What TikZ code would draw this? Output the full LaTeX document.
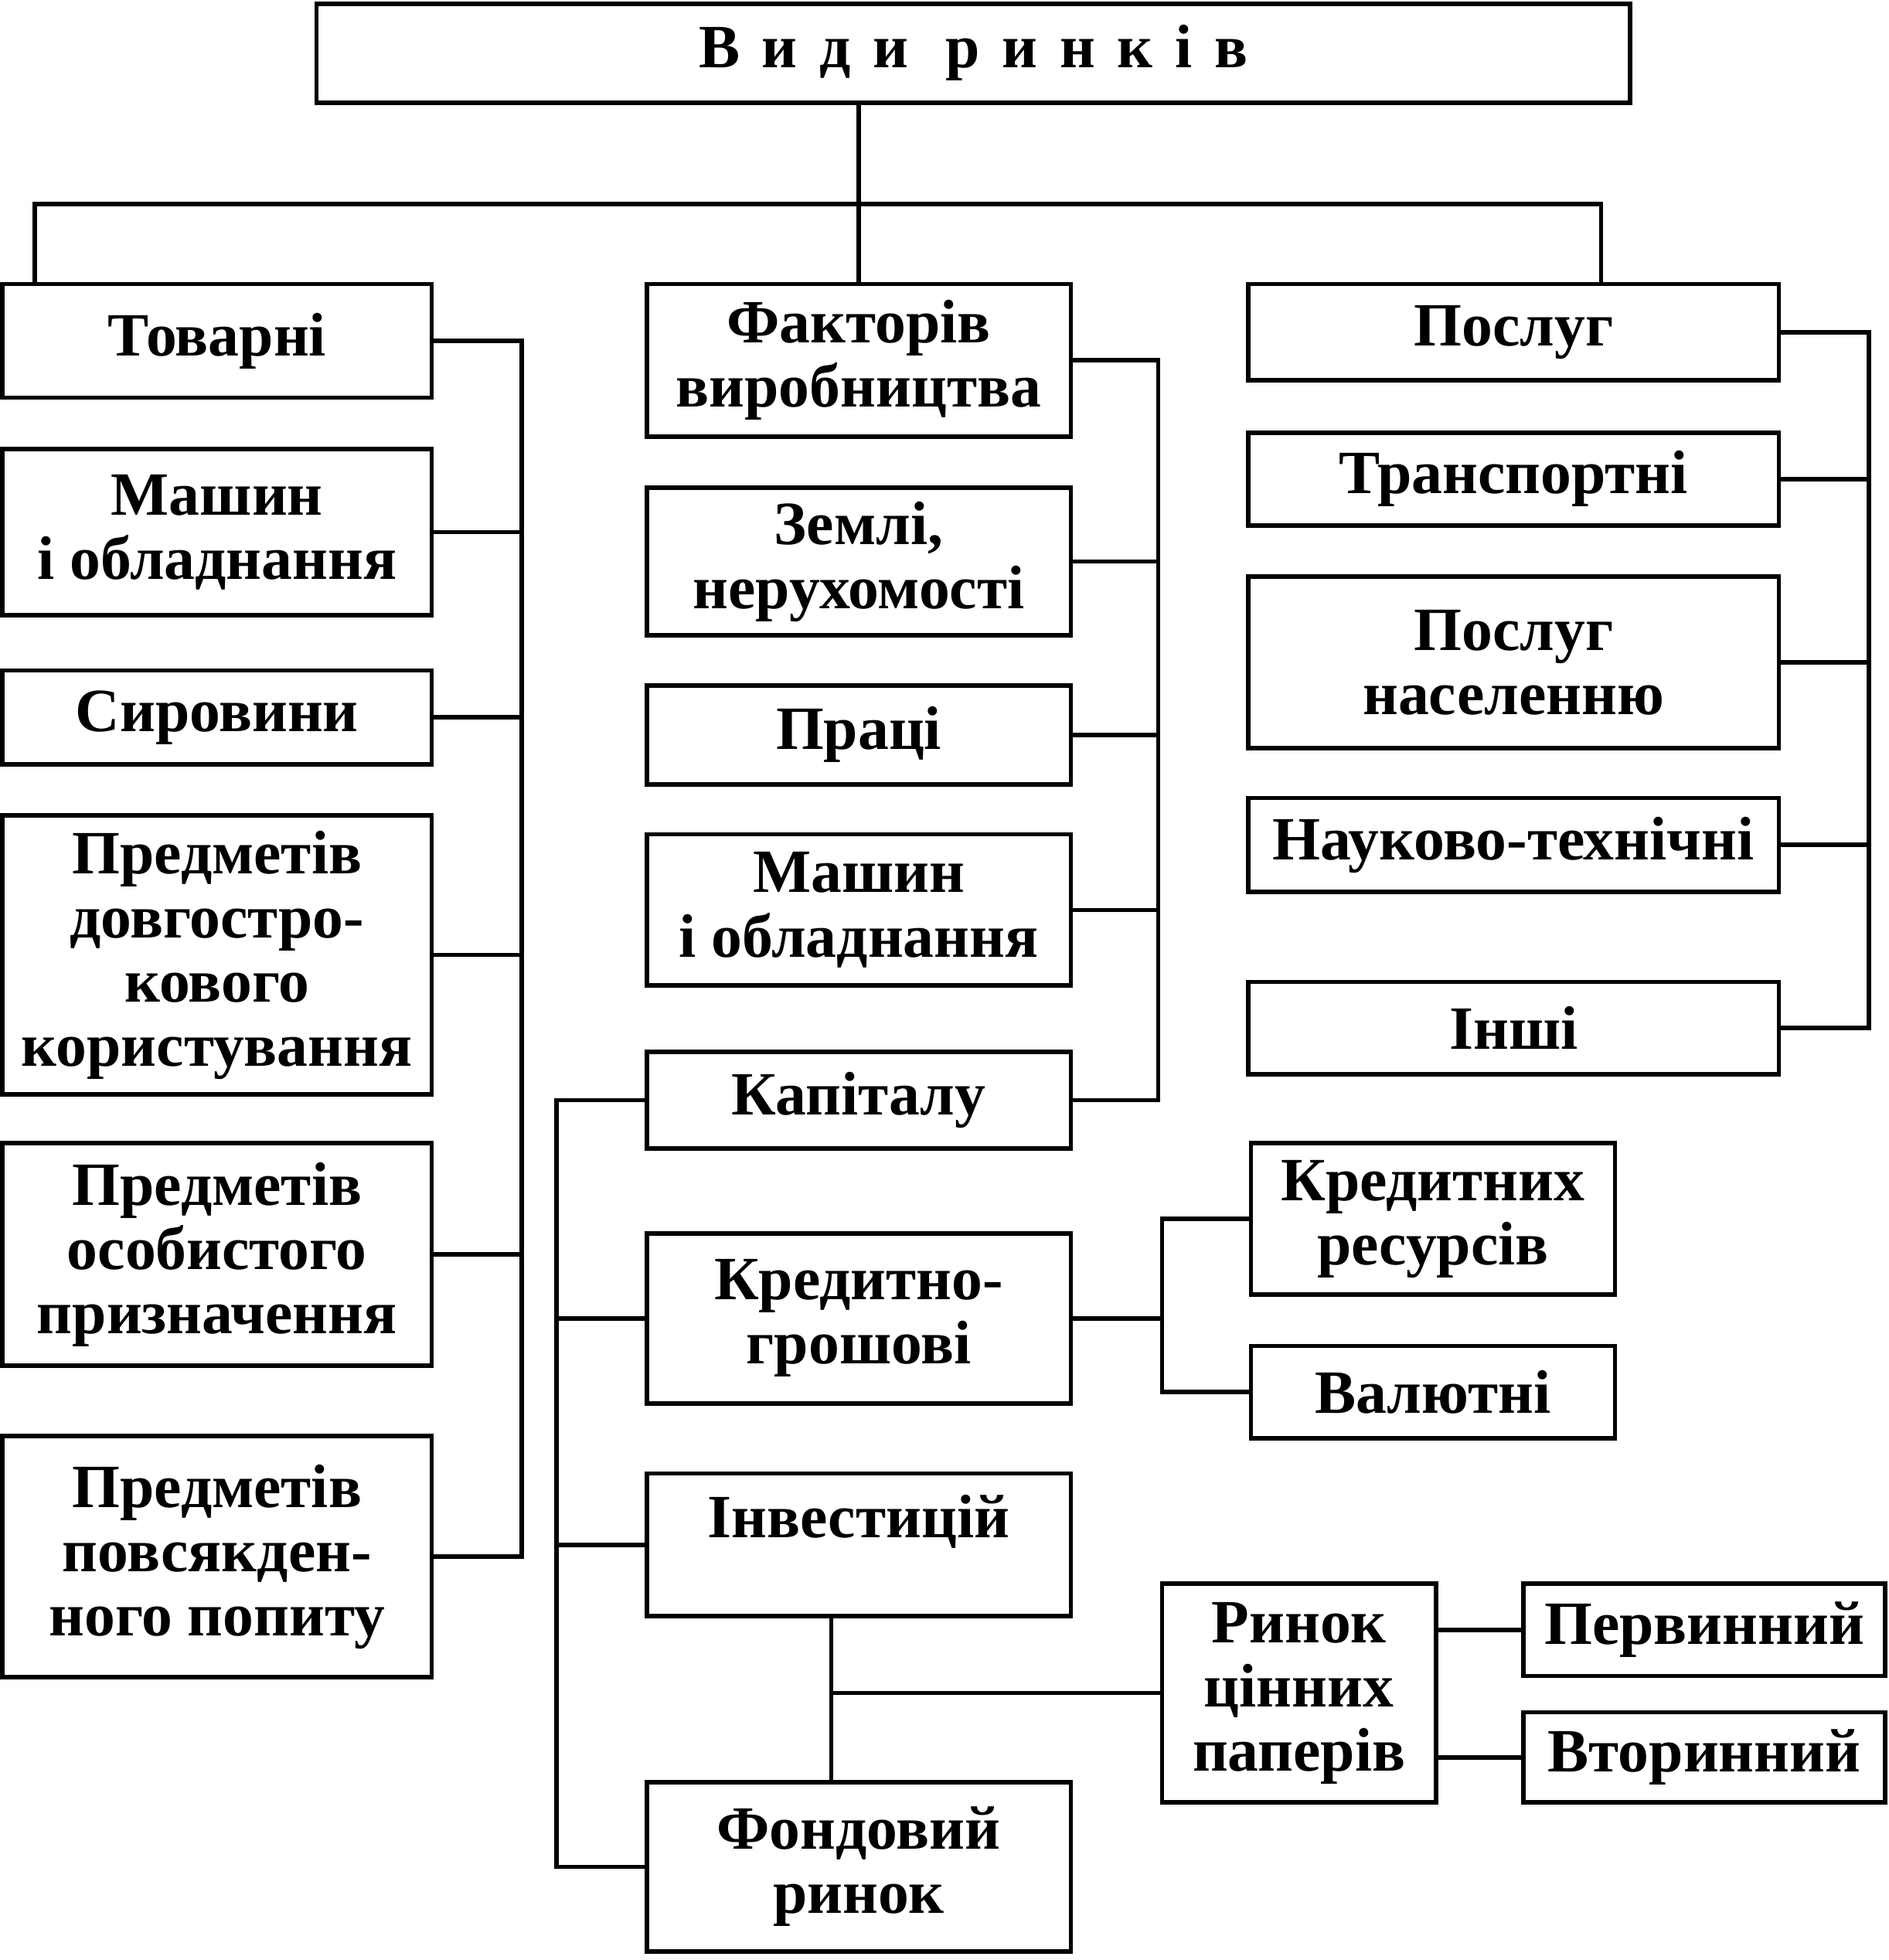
\documentclass[tikz,border=0pt]{standalone}
\usepackage{fontspec}
\setmainfont{Liberation Serif}
\tikzset{
     box/.style={draw, line width=1pt, align=center, inner sep=0pt, outer sep=0pt,
       font=\bfseries\fontsize{14}{14.6}\selectfont},
     link/.style={line width=1pt}
     }
\usetikzlibrary{positioning,calc}

\begin{document}
\begin{tikzpicture}[x=0.1mm,y=-0.1mm]
                    \useasboundingbox (0,0) rectangle (1510,1567);
                    % Place nodes
                    \node [box, minimum width=105mm, minimum height=7.9mm] (vydy) at (778,42.5)
                      {\addfontfeature{LetterSpace=36}Види\ ринків};
                    % left column
                    \node [box, anchor=north, minimum width=34.3mm, minimum height=9.1mm] (tov) at (173.5,227) {Товарні};
                    \node [box, below=4.1mm of tov, minimum width=34.3mm, minimum height=13.3mm] (tovMash) {Машин\\і обладнання};
                    \node [box, below=4.4mm of tovMash, minimum width=34.3mm, minimum height=7.5mm] (tovSyr) {Сировини};
                    \node [box, below=4.1mm of tovSyr, minimum width=34.3mm, minimum height=22.3mm] (tovDov) {Предметів\\довгостро-\\кового\\користування};
                    \node [box, below=3.9mm of tovDov, minimum width=34.3mm, minimum height=17.8mm] (tovOsob) {Предметів\\особистого\\призначення};
                    \node [box, below=5.6mm of tovOsob, minimum width=34.3mm, minimum height=19.3mm] (tovPov) {Предметів\\повсякден-\\ного попиту};
                    % middle column
                    \node [box, anchor=north, minimum width=33.9mm, minimum height=12.2mm] (fakt) at (686.5,227) {Факторів\\виробництва};
                    \node [box, below=4.1mm of fakt, minimum width=33.9mm, minimum height=11.8mm] (zem) {Землі,\\нерухомості};
                    \node [box, below=4mm of zem, minimum width=33.9mm, minimum height=7.9mm] (pratsi) {Праці};
                    \node [box, below=4mm of pratsi, minimum width=33.9mm, minimum height=12.1mm] (faktMash) {Машин\\і обладнання};
                    \node [box, below=5.3mm of faktMash, minimum width=33.9mm, minimum height=7.7mm] (kap) {Капіталу};
                    \node [box, below=6.8mm of kap, minimum width=33.9mm, minimum height=13.6mm] (kred) {Кредитно-\\грошові};
                    \node [box, below=5.6mm of kred, minimum width=33.9mm, minimum height=11.4mm, text depth=13pt] (inv) {Інвестицій};
                    \node [box, below=13.3mm of inv, minimum width=33.9mm, minimum height=13.5mm] (fond) {Фондовий\\ринок};
                    % credit and securities
                    \node [box, anchor=north, minimum width=29.1mm, minimum height=12.1mm] (kRes) at (1145.5,914) {Кредитних\\ресурсів};
                    \node [box, below=4.1mm of kRes, minimum width=29.1mm, minimum height=7.4mm] (val) {Валютні};
                    \node [box, anchor=north, minimum width=21.9mm, minimum height=17.5mm] (rcp) at (1038.5,1266) {Ринок\\цінних\\паперів};
                    \node [box, anchor=north, minimum width=28.9mm, minimum height=7.4mm] (perv) at (1362.5,1266) {Первинний};
                    \node [box, below=2.9mm of perv, minimum width=28.9mm, minimum height=7.2mm] (vtor) {Вторинний};
                    % right column
                    \node [box, anchor=north, minimum width=42.4mm, minimum height=7.7mm] (posl) at (1210,227) {Послуг};
                    \node [box, below=4.2mm of posl, minimum width=42.4mm, minimum height=7.4mm] (transp) {Транспортні};
                    \node [box, below=4.1mm of transp, minimum width=42.4mm, minimum height=13.7mm] (nasel) {Послуг\\населенню};
                    \node [box, below=4mm of nasel, minimum width=42.4mm, minimum height=7.5mm] (nauk) {Науково-технічні};
                    \node [box, below=7.2mm of nauk, minimum width=42.4mm, minimum height=7.4mm] (inshi) {Інші};
                    \coordinate (split) at ($(fakt.north)+(0,-64)$);
                    \coordinate (lbus) at ($(tov.east)+(72,0)$);
                    \coordinate (mbus) at ($(fakt.east)+(70,0)$);
                    \coordinate (kbus) at ($(kap.west)+(-72,0)$);
                    \coordinate (cbus) at ($(kred.east)+(73,0)$);
                    \coordinate (fstem) at ($(inv.south)+(-22,0)$);
                    \coordinate (pbus) at ($(posl.east)+(72,0)$);
                    % Draw edges
                    \draw [link] (fakt.north) -- (fakt.north |- vydy.south);
                    \draw [link] ($(tov.north west)+(26,0)$) |- (split) -| ($(posl.north east)+(-142,0)$);
                    % left bus
                    \draw [link] (tov.east) -| (lbus |- tovPov.east) -- (tovPov.east);
                    \draw [link] (tovMash.east) -- (tovMash.east -| lbus);
                    \draw [link] (tovSyr.east) -- (tovSyr.east -| lbus);
                    \draw [link] (tovDov.east) -- (tovDov.east -| lbus);
                    \draw [link] (tovOsob.east) -- (tovOsob.east -| lbus);
                    % middle bus
                    \draw [link] (fakt.east) -| (mbus |- kap.east) -- (kap.east);
                    \draw [link] (zem.east) -- (zem.east -| mbus);
                    \draw [link] (pratsi.east) -- (pratsi.east -| mbus);
                    \draw [link] (faktMash.east) -- (faktMash.east -| mbus);
                    % capital bus
                    \draw [link] (kap.west) -| (kbus |- fond.west) -- (fond.west);
                    \draw [link] (kred.west) -- (kred.west -| kbus);
                    \draw [link] (inv.west) -- (inv.west -| kbus);
                    \draw [link] (kred.east) -- (kred.east -| cbus);
                    \draw [link] (kRes.west) -| (val.west -| cbus) -- (val.west);
                    \draw [link] (fstem) -- (fstem |- fond.north);
                    \draw [link] (rcp.west) -- (rcp.west -| fstem);
                    \draw [link] (perv.west) -- (perv.west -| rcp.east);
                    \draw [link] (vtor.west) -- (vtor.west -| rcp.east);
                    % right bus
                    \draw [link] (posl.east) -| (pbus |- inshi.east) -- (inshi.east);
                    \draw [link] (transp.east) -- (transp.east -| pbus);
                    \draw [link] (nasel.east) -- (nasel.east -| pbus);
                    \draw [link] (nauk.east) -- (nauk.east -| pbus);
                \end{tikzpicture}
\end{document}
